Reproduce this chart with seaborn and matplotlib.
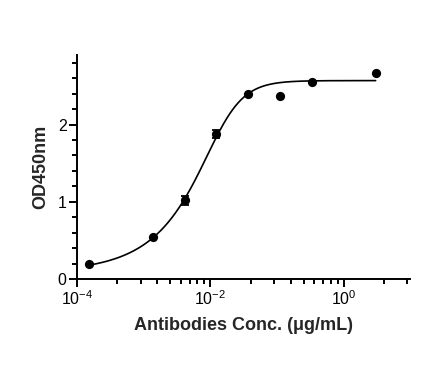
import numpy as np
import pandas as pd
import matplotlib
matplotlib.use("Agg")
import matplotlib.pyplot as plt
import seaborn as sns

# ---- data ----
conc = [0.000152, 0.00137, 0.00412, 0.0123, 0.037, 0.111, 0.333, 3.0]   # ug/mL
od450 = [0.194, 0.546, 1.02, 1.88, 2.40, 2.365, 2.55, 2.67]
od_err = [0.0, 0.0, 0.055, 0.055, 0.0, 0.0, 0.0, 0.0]

# asymmetric sigmoidal (5PL) fit parameters of the drawn curve
fit_bottom = 0.091
fit_top = 2.568
fit_logc = -1.83
fit_hill = 1.80
fit_asym = 0.40

x_major = [1e-4, 1e-2, 1e0]
x_major_labels = ["$\\mathregular{10^{-4}}$", "$\\mathregular{10^{-2}}$", "$\\mathregular{10^{0}}$"]
y_major = [0, 1, 2]
y_major_labels = ["0", "1", "2"]

xlabel = "Antibodies Conc. (μg/mL)"
ylabel = "OD450nm"

sns.set_theme(style="ticks")
plt.rcParams["font.family"] = ["Liberation Sans", "DejaVu Sans"]
plt.rcParams["mathtext.fontset"] = "custom"
plt.rcParams["mathtext.rm"] = "Liberation Sans"
plt.rcParams["mathtext.it"] = "Liberation Sans:italic"
plt.rcParams["mathtext.bf"] = "Liberation Sans:bold"

df = pd.DataFrame({"conc": conc, "od": od450, "err": od_err})

fig = plt.figure(figsize=(4.46, 3.84), dpi=100)
ax = fig.add_axes([0.1726, 0.2727, 0.9204 - 0.1726, 0.857 - 0.2727])

# fitted curve
xs = np.logspace(np.log10(conc[0]), np.log10(conc[-1]), 400)
ys = fit_bottom + (fit_top - fit_bottom) / (1.0 + 10 ** (fit_hill * (fit_logc - np.log10(xs)))) ** fit_asym
curve = pd.DataFrame({"conc": xs, "od": ys})
sns.lineplot(data=curve, x="conc", y="od", ax=ax, color="black", linewidth=1.2, zorder=2)

# error bars
eb = df[df["err"] > 0]
ax.errorbar(eb["conc"], eb["od"], yerr=eb["err"], fmt="none", ecolor="black",
            elinewidth=1.3, capsize=3.0, capthick=1.3, zorder=3)

# points
sns.scatterplot(data=df, x="conc", y="od", ax=ax, color="black", s=44,
                edgecolor="black", linewidth=0, zorder=4)

ax.set_xscale("log")
ax.set_xlim(1e-4, 10)
ax.set_ylim(0, 2.9)

ax.set_xticks(x_major)
ax.set_xticklabels(x_major_labels)
minor_x = []
for m in [1e-4, 1e-2, 1e0]:
    for k in range(2, 10):
        v = m * k * k
        if v <= 9.5:
            minor_x.append(v)
ax.set_xticks(minor_x, minor=True)
ax.set_xticklabels([], minor=True)

ax.set_yticks(y_major)
ax.set_yticklabels(y_major_labels)
ax.set_yticks([0.2, 0.4, 0.6, 0.8, 1.2, 1.4, 1.6, 1.8, 2.2, 2.4, 2.6, 2.8], minor=True)

for s in ["top", "right"]:
    ax.spines[s].set_visible(False)
for s in ["left", "bottom"]:
    ax.spines[s].set_linewidth(1.4)
    ax.spines[s].set_color("black")

ax.tick_params(axis="both", which="major", direction="out", length=5.5, width=1.4,
               colors="black", labelsize=11.5, pad=2)
ax.tick_params(axis="both", which="minor", direction="out", length=3.5, width=1.4,
               colors="black")

ax.set_xlabel(xlabel, fontsize=13, fontweight="bold", labelpad=6)
ax.set_ylabel(ylabel, fontsize=13, fontweight="bold", labelpad=6)
ax.grid(False)

fig.savefig("out.png", dpi=100)
